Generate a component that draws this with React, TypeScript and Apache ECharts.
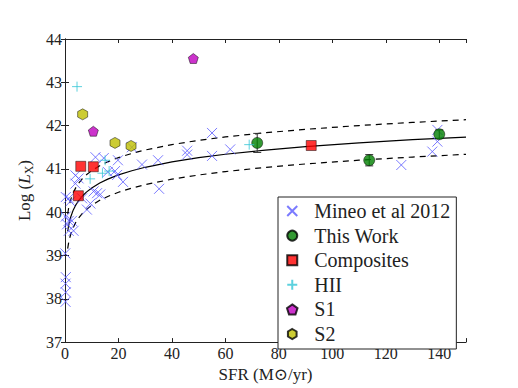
import React, { useEffect, useRef } from "react";
import * as echarts from "echarts";

// ---- data ----
const MINEO: [number, number][] = [
  [0.2, 37.93], [0.3, 38.15], [0.2, 38.35], [0.3, 38.5], [0.1, 39.05],
  [0.75, 39.72], [1.4, 39.8], [2.6, 39.8], [1.4, 39.57], [3.2, 39.57],
  [0.3, 39.9], [1.4, 40.32], [2.0, 40.25], [0.3, 40.35], [3.9, 40.85],
  [5.1, 40.78], [3.9, 40.66], [6.4, 40.32], [8.2, 40.06], [9.5, 40.2],
  [10.7, 40.48], [12.0, 40.44], [13.2, 40.41], [11.4, 41.27], [14.5, 41.25],
  [16.0, 40.93], [18.7, 40.95], [19.8, 41.2], [19.5, 40.86], [21.7, 40.7],
  [25.0, 41.5], [28.8, 41.1], [34.8, 41.2], [35.2, 40.54], [45.7, 41.42],
  [45.7, 41.33], [55.0, 41.83], [55.0, 41.3], [61.8, 41.45], [125.8, 41.09],
  [137.4, 41.4], [139.3, 41.63], [139.3, 41.9],
];
const THIS_WORK: [number, number, number][] = [
  [71.9, 41.6, 0.22],
  [113.8, 41.2, 0.13],
  [140.0, 41.8, 0.1],
];
const COMPOSITES: [number, number][] = [
  [5.9, 41.06], [10.6, 41.05], [5.0, 40.38], [92.1, 41.54],
];
const HII: [number, number][] = [
  [4.5, 42.9], [9.4, 40.77], [14.0, 40.9], [15.0, 41.2], [16.5, 40.95], [68.9, 41.56],
];
const S1: [number, number][] = [
  [48.0, 43.55], [10.6, 41.87],
];
const S2: [number, number][] = [
  [6.6, 42.26], [18.7, 41.6], [24.7, 41.53],
];
// fit: log L = FIT_INTERCEPT + log10(SFR), dashed band +/- FIT_SCATTER
const FIT_INTERCEPT = 39.56;
const FIT_SCATTER = 0.4;
const FIT_SFR = [1, 1.3, 1.7, 2.2, 3, 4, 5, 6.5, 8, 10, 13, 16, 20, 25, 30, 40, 50, 60, 75, 90, 110, 130, 150];
const X_TICKS = [0, 20, 40, 60, 80, 100, 120, 140];
const Y_TICKS = [37, 38, 39, 40, 41, 42, 43, 44];

const FONT = "'Liberation Serif', 'DejaVu Serif', serif";
const CROSS = "path://M0,0L10,10M10,0L0,10";
const PLUS = "path://M5,0L5,10M0,5L10,5";
const SQUARE = "path://M0,0L10,0L10,10L0,10Z";
const PENTAGON = "path://M50,0L97.55,34.55L79.39,90.45L20.61,90.45L2.45,34.55Z";
const HEXAGON = "path://M50,0L93.3,25L93.3,75L50,100L6.7,75L6.7,25Z";

export default function App() {
  const ref = useRef<HTMLDivElement>(null);
  useEffect(() => {
    if (!ref.current) return;
    const chart = echarts.init(ref.current, undefined, { renderer: "svg" });
    const fit = (d: number) => FIT_SFR.map((x) => [x, FIT_INTERCEPT + Math.log10(x) + d]);
    const axisCommon = {
      axisLine: { show: true, lineStyle: { color: "#222", width: 1 } },
      axisTick: { show: true, inside: true, length: 4, lineStyle: { color: "#222" } },
      splitLine: { show: false },
    };
    chart.setOption({
      animation: false,
      grid: { left: 65, top: 39, width: 401, height: 310, show: false },
      xAxis: [
        {
          type: "value", min: 0, max: 150, interval: 20, ...axisCommon,
          axisLabel: {
            fontFamily: FONT, fontSize: 16, color: "#222", margin: 3,
            formatter: (v: number) => (X_TICKS.includes(v) ? String(v) : ""),
          },
          name: "SFR (M⊙/yr)", nameLocation: "middle", nameGap: 20,
          nameTextStyle: { fontFamily: FONT, fontSize: 17, color: "#222" },
        },
        {
          type: "value", position: "top", min: 0, max: 150, interval: 20, ...axisCommon,
          axisLabel: { show: false },
        },
      ],
      yAxis: [
        {
          type: "value", min: 37, max: 44, interval: 1, ...axisCommon,
          axisLabel: {
            fontFamily: FONT, fontSize: 16, color: "#222", margin: 3,
            formatter: (v: number) => (Y_TICKS.includes(v) ? String(v) : ""),
          },
          name: "{a|Log (}{b|L}{c|X}{a|)}", nameLocation: "middle", nameGap: 26, nameRotate: 90,
          nameTextStyle: {
            rich: {
              a: { fontFamily: FONT, fontSize: 17, color: "#222" },
              b: { fontFamily: FONT, fontSize: 17, fontStyle: "italic", color: "#222" },
              c: { fontFamily: FONT, fontSize: 12, color: "#222", padding: [9, 0, 0, 0] },
            },
          },
        },
        {
          type: "value", position: "right", min: 37, max: 44, interval: 1, ...axisCommon,
          axisLabel: { show: false },
        },
      ],
      legend: {
        data: [
          { name: "Mineo et al 2012" },
          { name: "This Work" },
          { name: "Composites", icon: SQUARE },
          { name: "HII" },
          { name: "S1" },
          { name: "S2" },
        ],
        orient: "vertical", left: 278, top: 197,
        padding: [4, 6, 5, 8], itemWidth: 34, itemHeight: 10, itemGap: 4.6,
        backgroundColor: "#fff", borderColor: "#222", borderWidth: 1, borderRadius: 0,
        textStyle: { fontFamily: FONT, fontSize: 20, color: "#222", lineHeight: 20 },
      },
      series: [
        {
          type: "line", data: fit(0), showSymbol: false, symbol: "none", silent: true,
          lineStyle: { color: "#000", width: 1.2 }, z: 1,
        },
        {
          type: "line", data: fit(FIT_SCATTER), showSymbol: false, symbol: "none", silent: true,
          lineStyle: { color: "#000", width: 1.2, type: [6, 5] }, z: 1,
        },
        {
          type: "line", data: fit(-FIT_SCATTER), showSymbol: false, symbol: "none", silent: true,
          lineStyle: { color: "#000", width: 1.2, type: [6, 5] }, z: 1,
        },
        {
          name: "Mineo et al 2012", type: "scatter", data: MINEO, symbol: CROSS, symbolSize: 10,
          itemStyle: { color: "rgba(0,0,0,0)", borderColor: "#5a5aff", borderWidth: 1 }, z: 2,
        },
        {
          type: "custom", data: THIS_WORK, z: 3,
          renderItem: (_p: any, api: any) => {
            const x = api.value(0), y = api.value(1), e = api.value(2);
            const top = api.coord([x, y + e]);
            const bot = api.coord([x, y - e]);
            const st = { stroke: "#333", lineWidth: 1 };
            return {
              type: "group",
              children: [
                { type: "line", shape: { x1: top[0], y1: top[1], x2: bot[0], y2: bot[1] }, style: st },
                { type: "line", shape: { x1: top[0] - 4, y1: top[1], x2: top[0] + 4, y2: top[1] }, style: st },
                { type: "line", shape: { x1: bot[0] - 4, y1: bot[1], x2: bot[0] + 4, y2: bot[1] }, style: st },
              ],
            };
          },
        },
        {
          name: "This Work", type: "scatter", data: THIS_WORK.map((d) => [d[0], d[1]]),
          symbol: "circle", symbolSize: 11,
          itemStyle: { color: "#007f00", borderColor: "#000", borderWidth: 0.6 }, z: 4,
        },
        {
          name: "Composites", type: "scatter", data: COMPOSITES, symbol: "rect", symbolSize: 10,
          itemStyle: { color: "#ff0000", borderColor: "#000", borderWidth: 0.6 }, z: 4,
        },
        {
          name: "HII", type: "scatter", data: HII, symbol: PLUS, symbolSize: 10,
          itemStyle: { color: "rgba(0,0,0,0)", borderColor: "#33c6d6", borderWidth: 1 }, z: 4,
        },
        {
          name: "S1", type: "scatter", data: S1, symbol: PENTAGON, symbolSize: [10, 10],
          itemStyle: { color: "#bf00bf", borderColor: "#000", borderWidth: 0.6 }, z: 4,
        },
        {
          name: "S2", type: "scatter", data: S2, symbol: HEXAGON, symbolSize: [10, 11],
          itemStyle: { color: "#bfbf00", borderColor: "#000", borderWidth: 0.6 }, z: 4,
        },
      ],
    });
    return () => chart.dispose();
  }, []);
  return <div ref={ref} style={{ position: "absolute", left: 0, top: 0, width: 518, height: 388 }} />;
}
